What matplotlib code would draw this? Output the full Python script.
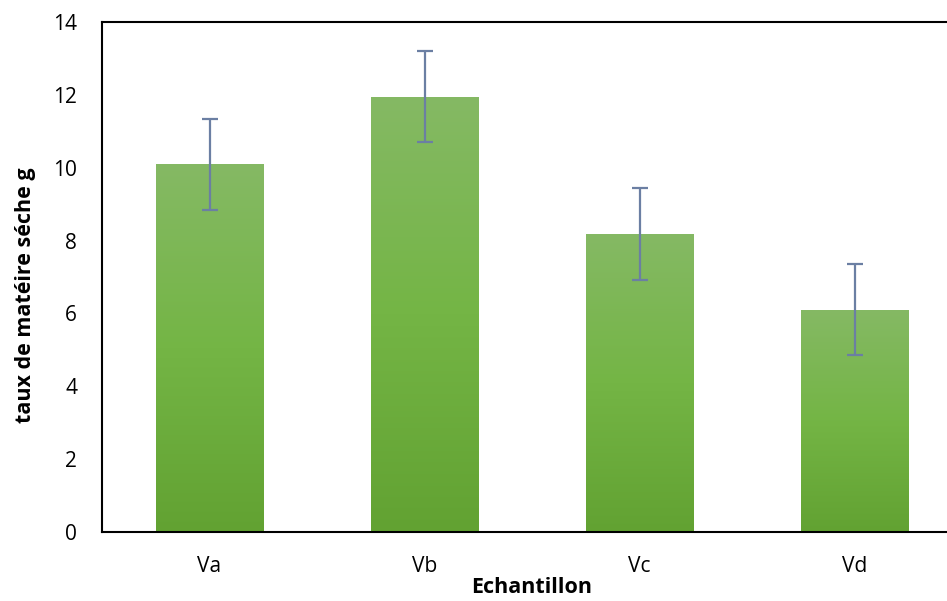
import matplotlib
matplotlib.use("Agg")
import matplotlib.pyplot as plt
import numpy as np
from matplotlib.colors import LinearSegmentedColormap

categories = ["Va", "Vb", "Vc", "Vd"]
values = [10.1, 11.95, 8.18, 6.1]
errors = [1.25, 1.25, 1.25, 1.25]
yticks = [0, 2, 4, 6, 8, 10, 12, 14]

plt.rcParams['font.family'] = ['Open Sans', 'DejaVu Sans']

fig = plt.figure(figsize=(9.47, 6.01), dpi=100)
ax = fig.add_axes([102/947, (601-532)/601, 860/947, 510/601])

x = np.arange(len(categories))
bars = ax.bar(x, values, width=0.5, color='none', edgecolor='none', zorder=2)
cmap = LinearSegmentedColormap.from_list('g', ['#62a232', '#74b545', '#85b964'])
grad = np.linspace(0, 1, 256).reshape(-1, 1)
for b in bars:
    x0, y0 = b.get_x(), b.get_y()
    w, h = b.get_width(), b.get_height()
    im = ax.imshow(grad, cmap=cmap, origin='lower', aspect='auto',
                   extent=[x0, x0 + w, y0, y0 + h], zorder=2)
    im.set_clip_path(b)

ax.errorbar(x, values, yerr=errors, fmt='none', ecolor='#6b7fa3',
            elinewidth=1.6, capsize=6, capthick=1.6, zorder=3)

ax.set_xlim(-0.5, 3.5)
ax.set_ylim(0, 14)
ax.set_yticks(yticks)
ax.set_xticks(x)
ax.set_xticklabels(categories)
ax.tick_params(length=0, labelsize=15, colors='black')
ax.tick_params(axis='x', pad=17)
ax.tick_params(axis='y', pad=18)
for s in ax.spines.values():
    s.set_linewidth(1.5)
    s.set_color('black')
ax.set_xlabel('Echantillon', fontsize=15.5, fontweight='bold', labelpad=0)
ax.set_ylabel('taux de matéire séche g', fontsize=15.5, fontweight='bold', labelpad=12)
ax.yaxis.label.set_y(0.465)

fig.savefig('out.png', dpi=100)
